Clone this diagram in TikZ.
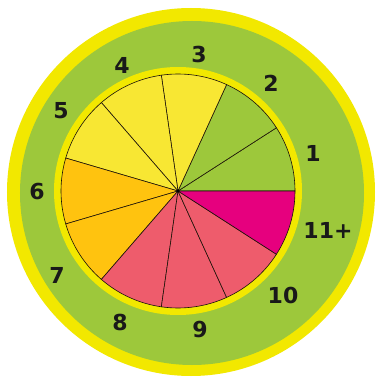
\documentclass[tikz,border=0pt]{standalone}
\usepackage{fontspec}
\setmainfont{DejaVu Sans}
\begin{document}
\begin{tikzpicture}[x=1pt,y=1pt,
  lbl/.style={font=\fontsize{22}{22}\bfseries\selectfont, text=black!90},
  slice/.style={draw=black!85!brown, line width=0.6pt}]
\definecolor{ringyellow}{HTML}{F2E800}
\definecolor{bggreen}{HTML}{9DC83B}
\definecolor{pieyellow}{HTML}{F8E733}
\definecolor{pieorange}{HTML}{FFC30F}
\definecolor{piepink}{HTML}{EE5C6C}
\definecolor{piemagenta}{HTML}{E6007E}
\useasboundingbox (-178,-187) rectangle (198,191);
\fill[white] (-178,-187) rectangle (198,191);
\fill[ringyellow] (13,-1) circle (184);
\fill[bggreen] (14,-2) circle (172);
\fill[ringyellow] (0,0) circle (124);
\coordinate (c) at (0,0);
\def\A{32.7273}
\foreach \k/\col in {0/bggreen,1/bggreen,2/pieyellow,3/pieyellow,4/pieyellow,5/pieorange,6/pieorange,7/piepink,8/piepink,9/piepink,10/piemagenta}{
  \pgfmathsetmacro\a{\k*\A}
  \pgfmathsetmacro\b{(\k+1)*\A}
  \filldraw[slice, fill=\col] (c) -- (\a:117) arc[start angle=\a, end angle=\b, radius=117] -- cycle;
}
\fill[black] (c) circle (1.3);
\node[lbl] (l1) at (135,38) {1};
\node[lbl] (l2) at (93,108) {2};
\node[lbl] (l3) at (21,137) {3};
\node[lbl] (l4) at (-56,126) {4};
\node[lbl] (l5) at (-117,80) {5};
\node[lbl] (l6) at (-141,-1) {6};
\node[lbl] (l7) at (-121,-84) {7};
\node[lbl] (l8) at (-58,-131) {8};
\node[lbl] (l9) at (22,-139) {9};
\node[lbl] (l10) at (105,-104) {10};
\node[lbl] (l11) at (150,-39) {11+};
\end{tikzpicture}
\end{document}
